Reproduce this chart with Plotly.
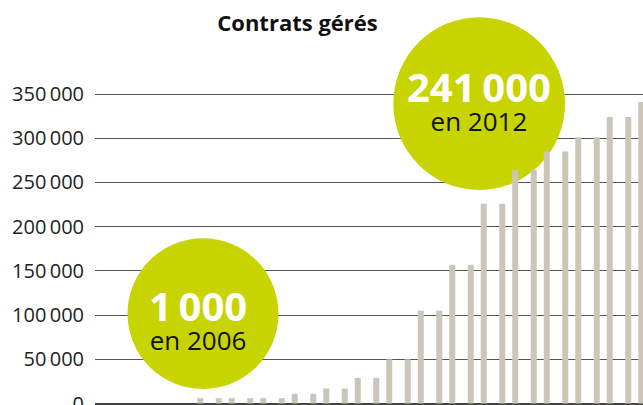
import plotly.graph_objects as go

# ---- data ----
periodes = [f"P{i}" for i in range(1, 16)]
contrats = [6000, 6000, 6000, 11000, 17000, 29000, 50000, 105000,
            157000, 226000, 264000, 285000, 301000, 324000, 341000]
tick_vals = [0, 50000, 100000, 150000, 200000, 250000, 300000, 350000]
tick_text = ["0", "50\u2009000", "100\u2009000", "150\u2009000", "200\u2009000",
             "250\u2009000", "300\u2009000", "350\u2009000"]
titre = "Contrats gérés"
bulles = [("1\u2009000", "en 2006"), ("241\u2009000", "en 2012")]

# ---- layout geometry ----
W, H = 643, 405
ML, MR, MT, MB = 95, 0, 0, 1
plot_w = W - ML - MR
plot_h = H - MT - MB
zero_px = 403.5        # pixel row of the 0 line
y_top_px = 94          # pixel row of the 350 000 line
per_px = 350000 / (zero_px - y_top_px)
y_min = -(H - MB - zero_px) * per_px
y_max = y_min + plot_h * per_px
cat_px = 31.5          # pixels per category
first_center_px = 209.5
x0 = -(first_center_px - ML) / cat_px
x_range = [x0, x0 + plot_w / cat_px]

def px_x(p):
    return x_range[0] + (p - ML) / cat_px

def px_y(p):
    return (zero_px - p) * per_px

def paper_x(p):
    return (p - ML) / plot_w

def paper_y(p):
    return (H - MB - p) / plot_h

BAR = "#cbc6b9"
GREEN = "#c8d400"
FONT = "Open Sans"

fig = go.Figure()
bw = 6 / cat_px
for off in (-9.25, 9.25):
    fig.add_trace(go.Bar(x=periodes, y=contrats, width=bw,
                         offset=(off - 3) / cat_px,
                         marker=dict(color=BAR, line=dict(width=0)),
                         showlegend=False, hoverinfo="skip"))

# circles (px geometry)
circles = [(127.5, 238.3, 278.5, 389.0), (393.3, 17.3, 565.0, 190.0)]
for (cx0, cy0, cx1, cy1) in circles:
    fig.add_shape(type="circle", xref="x", yref="y",
                  x0=px_x(cx0), x1=px_x(cx1), y0=px_y(cy1), y1=px_y(cy0),
                  fillcolor=GREEN, line=dict(width=0), layer="between")

# combined two-line labels inside the circles
text_pos = [(197.5, 318), (478.5, 99)]
for (big, small), (tx, ty) in zip(bulles, text_pos):
    fig.add_annotation(
        text=(f"<span style='font-size:40px;color:white;font-weight:bold'>{big}</span>"
              f"<br><span style='font-size:26px'>{small}</span>"),
        xref="paper", yref="paper", x=paper_x(tx), y=paper_y(ty),
        showarrow=False, xanchor="center", yanchor="middle", align="center",
        font=dict(family=FONT, size=22, color="#111111"))

fig.update_layout(
    width=W, height=H,
    margin=dict(l=ML, r=MR, t=MT, b=MB, pad=0),
    paper_bgcolor="white", plot_bgcolor="white",
    barmode="overlay",
    title=dict(text=f"<b>{titre}</b>", xref="paper", yref="container",
               x=paper_x(297.5), y=1 - 23 / H, xanchor="center", yanchor="middle",
               font=dict(family=FONT, size=22, color="#111111")),
    xaxis=dict(range=x_range, showticklabels=False, showgrid=False,
               zeroline=False, showline=False, ticks="", automargin=False),
    yaxis=dict(range=[y_min, y_max], tickvals=tick_vals, ticktext=tick_text,
               showgrid=True, gridcolor="#555555", gridwidth=1,
               zeroline=True, zerolinecolor="#444444", zerolinewidth=1.5,
               showline=False, ticks="", ticklabelstandoff=10,
               ticklabeloverflow="allow",
               tickfont=dict(family=FONT, size=20, color="#222222"),
               automargin=False),
)

fig.write_html("out.html", config={"displayModeBar": False},
               post_script="document.body.style.margin='0';document.body.style.padding='0';")
